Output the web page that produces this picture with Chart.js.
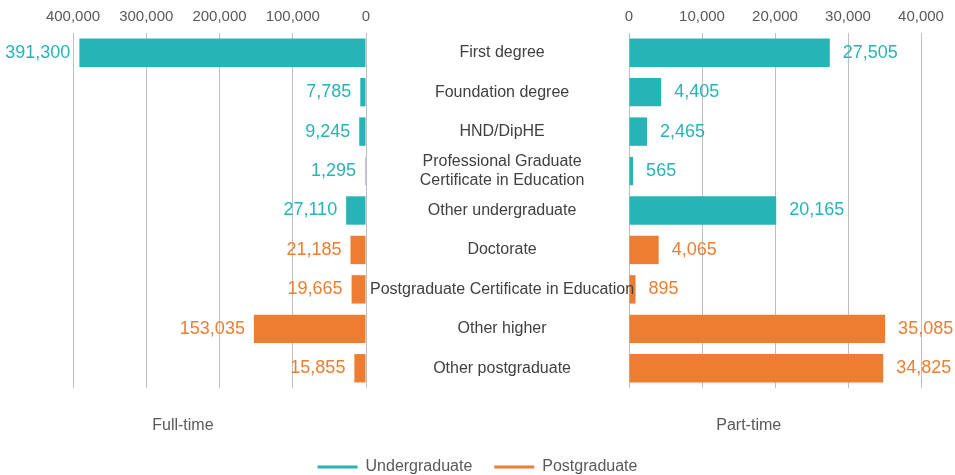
<!DOCTYPE html>
<html lang="en">
<head>
<meta charset="UTF-8">
<title>Students by level of study and mode</title>
<script src="https://cdn.jsdelivr.net/npm/chart.js@4.4.0/dist/chart.umd.min.js"></script>
<style>
    html, body { margin: 0; padding: 0; background: #fff; overflow: hidden; }
    .wrap { position: relative; width: 955px; height: 475px; }
    .wrap canvas { position: absolute; left: 0; top: 0; }
</style>
</head>
<body>
<div class="wrap">
    <canvas id="partTime" width="955" height="475"></canvas>
    <canvas id="fullTime" width="955" height="475"></canvas>
</div>
<script>
// datos
const categories = ['First degree', 'Foundation degree', 'HND/DipHE',
    ['Professional Graduate', 'Certificate in Education'], 'Other undergraduate',
    'Doctorate', 'Postgraduate Certificate in Education', 'Other higher', 'Other postgraduate'];
const fullTimeUndergrad = [391300, 7785, 9245, 1295, 27110, null, null, null, null];
const fullTimePostgrad = [null, null, null, null, null, 21185, 19665, 153035, 15855];
const partTimeUndergrad = [27505, 4405, 2465, 565, 20165, null, null, null, null];
const partTimePostgrad = [null, null, null, null, null, 4065, 895, 35085, 34825];
const fullTimeTicks = [0, 100000, 200000, 300000, 400000];
const partTimeTicks = [0, 10000, 20000, 30000, 40000];

const UG = '#27B4B6';
const PG = '#ED7D31';
const GRID = '#BFBFBF';
const TICK = '#595959';
const LABEL = '#404040';

Chart.defaults.font.family = "'Liberation Sans', Arial, sans-serif";

// etiquetas de valor al final de cada barra
const valueLabels = {
    id: 'valueLabels',
    afterDatasetsDraw(chart, args, opts) {
        const ctx = chart.ctx;
        ctx.save();
        ctx.font = "18px 'Liberation Sans', Arial, sans-serif";
        ctx.textBaseline = 'middle';
        chart.data.datasets.forEach((ds, i) => {
            chart.getDatasetMeta(i).data.forEach((bar, j) => {
                const v = ds.data[j];
                if (v == null) return;
                ctx.fillStyle = ds.backgroundColor;
                if (opts.side === 'left') {
                    ctx.textAlign = 'right';
                    ctx.fillText(v.toLocaleString('en-US'), bar.x - opts.gap, bar.y);
                } else {
                    ctx.textAlign = 'left';
                    ctx.fillText(v.toLocaleString('en-US'), bar.x + opts.gap, bar.y);
                }
            });
        });
        ctx.restore();
    }
};

function datasets(ug, pg) {
    return [
        { label: 'Undergraduate', data: ug, backgroundColor: UG, borderColor: UG },
        { label: 'Postgraduate', data: pg, backgroundColor: PG, borderColor: PG }
    ];
}

const barOpts = { bar: { grouped: false, barPercentage: 0.72, categoryPercentage: 1, borderWidth: 0 } };

function topAxis(ticks, reverse) {
    return {
        position: 'top',
        reverse: reverse,
        min: ticks[0],
        max: ticks[ticks.length - 1],
        afterBuildTicks: s => { s.ticks = ticks.map(v => ({ value: v })); },
        afterFit: s => { s.height = 33; },
        grid: { color: GRID, drawTicks: false },
        border: { display: false },
        ticks: { padding: 7, color: TICK, font: { size: 15 }, maxRotation: 0,
                 callback: v => v.toLocaleString('en-US') }
    };
}

function captionAxis(ticks, reverse, at, text, height) {
    return {
        type: 'linear',
        position: 'bottom',
        reverse: reverse,
        min: ticks[0],
        max: ticks[ticks.length - 1],
        afterBuildTicks: s => { s.ticks = [{ value: at }]; },
        afterFit: s => { s.height = height; },
        grid: { display: false, drawTicks: false },
        border: { display: false },
        ticks: { padding: 28, color: TICK, font: { size: 16 }, callback: () => text }
    };
}

// Part-time (debajo, con la leyenda)
new Chart(document.getElementById('partTime'), {
    type: 'bar',
    data: { labels: categories, datasets: datasets(partTimeUndergrad, partTimePostgrad) },
    options: {
        indexAxis: 'y',
        responsive: false,
        animation: false,
        layout: { padding: { left: 0, right: 0, top: 0, bottom: -10 } },
        datasets: barOpts,
        scales: {
            x: topAxis(partTimeTicks, false),
            caption: captionAxis(partTimeTicks, false, 16400, 'Part-time', 49),
            y: {
                position: 'left',
                afterFit: s => { s.width = 629; },
                grid: { display: false, drawTicks: false },
                border: { display: false },
                ticks: { display: false }
            },
            gap: {
                type: 'linear',
                position: 'right',
                afterFit: s => { s.width = 34; },
                grid: { display: false, drawTicks: false },
                border: { display: false },
                ticks: { display: false }
            }
        },
        plugins: {
            legend: {
                position: 'bottom',
                labels: {
                    usePointStyle: true, pointStyle: 'line', pointStyleWidth: 40,
                    padding: 22, color: TICK, font: { size: 16 },
                    generateLabels: chart => Chart.defaults.plugins.legend.labels
                        .generateLabels(chart).map(l => Object.assign(l, { lineWidth: 3 }))
                }
            },
            tooltip: { enabled: false },
            valueLabels: { side: 'right', gap: 13 }
        }
    },
    plugins: [valueLabels]
});

// Full-time (encima, con las categorias)
new Chart(document.getElementById('fullTime'), {
    type: 'bar',
    data: { labels: categories, datasets: datasets(fullTimeUndergrad, fullTimePostgrad) },
    options: {
        indexAxis: 'y',
        responsive: false,
        animation: false,
        layout: { padding: { left: 73, right: 307, top: 0, bottom: 0 } },
        datasets: barOpts,
        scales: {
            x: topAxis(fullTimeTicks, true),
            caption: captionAxis(fullTimeTicks, true, 250000, 'Full-time', 87),
            y: {
                position: 'right',
                afterFit: s => { s.width = 282; },
                grid: { display: false, drawTicks: false },
                border: { display: false },
                ticks: { crossAlign: 'center', padding: 4, autoSkip: false,
                         color: LABEL, font: { size: 16 } }
            }
        },
        plugins: {
            legend: { display: false },
            tooltip: { enabled: false },
            valueLabels: { side: 'left', gap: 9 }
        }
    },
    plugins: [valueLabels]
});
</script>
</body>
</html>
